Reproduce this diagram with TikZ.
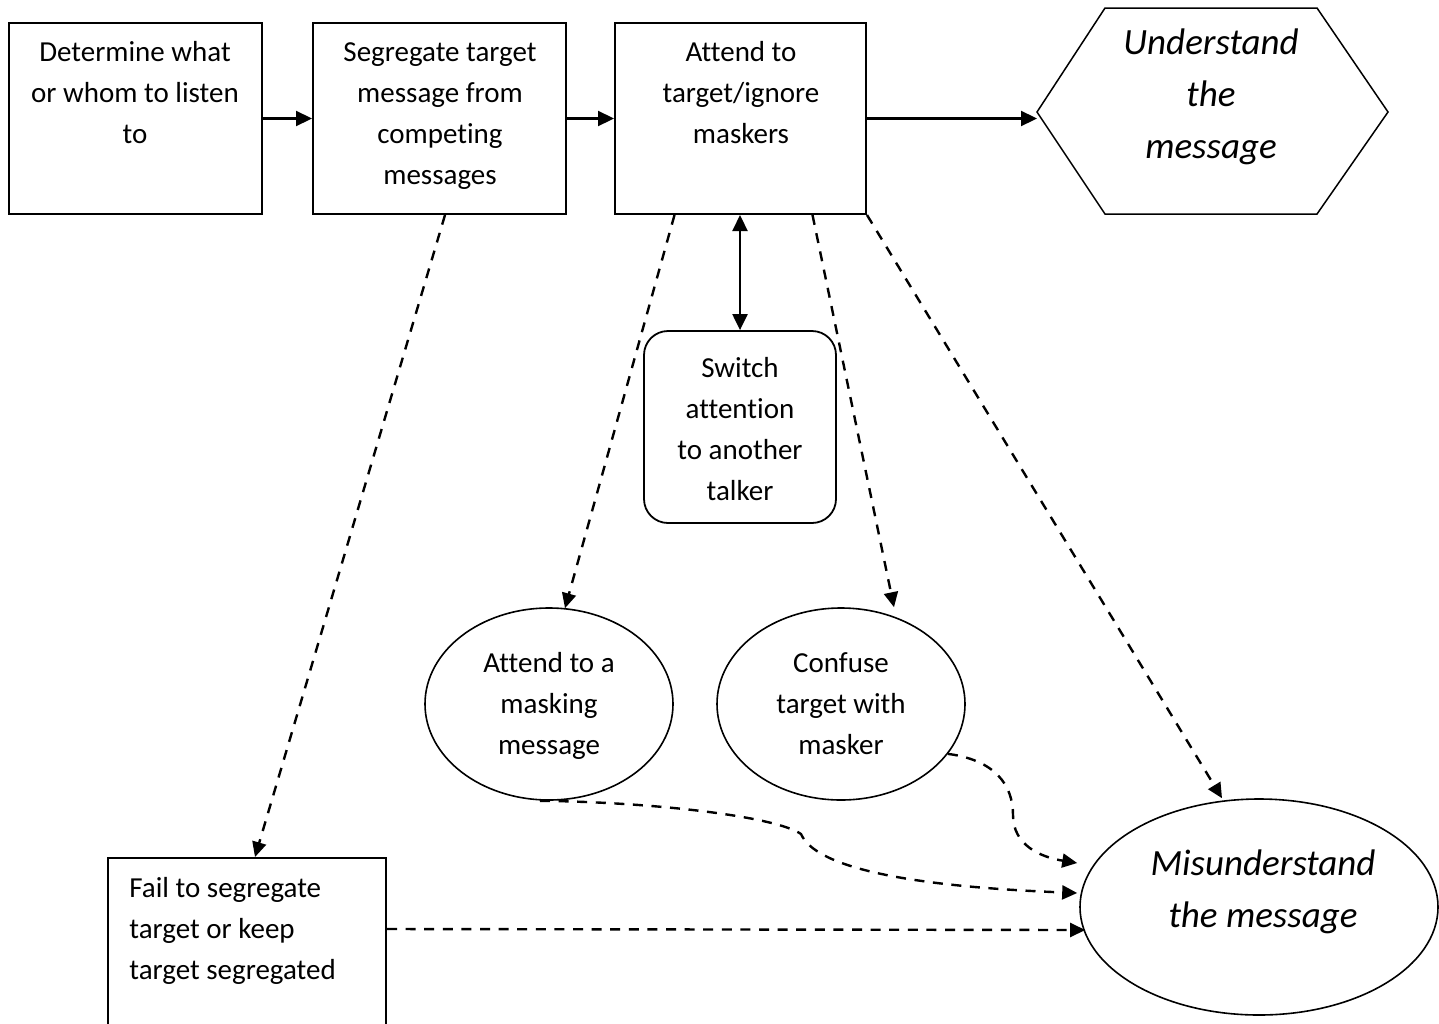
\documentclass[tikz,border=0pt]{standalone}
\usepackage{fontspec}
\setmainfont{Carlito}[Ligatures=NoCommon]
\usetikzlibrary{shapes.geometric,arrows.meta,calc}
\newcommand\firstln{\rule{0pt}{14pt}}
\newcommand\firstit{\rule{0pt}{18pt}}
\begin{document}
\begin{tikzpicture}[x=0.5pt,y=-0.5pt,
  every node/.style={inner sep=0pt},
  box/.style={draw, line width=1pt, rectangle},
  rnd/.style={draw, line width=0.9pt, rounded corners=12pt, rectangle},
  ell/.style={draw, ellipse, line width=0.8pt},
  txt/.style={align=center, anchor=north, font=\fontsize{14.5}{20.5}\selectfont},
  itxt/.style={align=center, anchor=north, font=\fontsize{18.5}{26}\selectfont\itshape},
  tip/.style={Triangle[length=8pt,width=7.5pt]},
  arr/.style={line width=1.1pt, -{Triangle[length=8pt,width=7.5pt]}},
  darr/.style={line width=1.2pt, dash pattern=on 5pt off 4.3pt, -{Triangle[length=7.5pt,width=7pt]}},
]
\clip (0,0) rectangle (1439,1023);
\fill[white] (0,0) rectangle (1439,1023);

% top row boxes
\node[box, minimum width=126.5pt, minimum height=95.5pt] (b1) at (135.5,118.5) {};
\node[box, minimum width=126.5pt, minimum height=95.5pt] (b2) at (439.5,118.5) {};
\node[box, minimum width=125.5pt, minimum height=95.5pt] (b3) at (740.5,118.5) {};
\node[txt] (b1t) at (135,33) {\firstln Determine what\\or whom to listen\\to};
\node[txt] (b2t) at (440,33) {\firstln Segregate target\\message from\\competing\\messages};
\node[txt] (b3t) at (741,33) {\firstln Attend to\\target/ignore\\maskers};

% hexagon
\coordinate (hexL) at (1037,112);
\draw[line width=0.75pt] (hexL) -- (1105,8) -- (1317,8) -- (1388,112) -- (1317,214) -- (1105,214) -- cycle;
\node[itxt] (hext) at (1211,18) {\firstit Understand\\the\\message};

% switch box
\node[rnd, minimum width=96pt, minimum height=96pt] (sw) at (740,427) {};
\node[txt] (swt) at (740,349) {\firstln Switch\\attention\\to another\\talker};

% ellipses
\node[ell, minimum width=124pt, minimum height=96pt] (e1) at (549,704) {};
\node[ell, minimum width=124pt, minimum height=96pt] (e2) at (841,704) {};
\node[txt] (e1t) at (549,644) {\firstln Attend to a\\masking\\message};
\node[txt] (e2t) at (841,644) {\firstln Confuse\\target with\\masker};

\node[ell, minimum width=179pt, minimum height=108pt] (mis) at (1259,907) {};
\node[itxt] (mist) at (1263,839) {\firstit Misunderstand\\the message};

% fail box
\node[box, minimum width=139pt, minimum height=91pt] (fail) at (247,949) {};
\node[txt, anchor=north west, align=left] (failt) at (129,869) {\firstln Fail to segregate\\target or keep\\target segregated};

% solid connectors
\draw[arr] (b1) -- (b2);
\draw[arr] (b2) -- (b3);
\draw[arr] (b3.east) -- (hexL |- b3.east);
\draw[line width=1.1pt, {Triangle[length=8pt,width=7.5pt]}-{Triangle[length=8pt,width=7.5pt]}] (sw.north |- b3.south) -- (sw.north);

% dashed connectors
\draw[darr] ($(b2.south)+(5.5,0)$) -- ($(fail.north)+(8,0)$);
\draw[darr] ($(b3.south)+(-66,0)$) -- ($(e1.north)+(16,1)$);
\draw[darr] ($(b3.south)+(72,0)$) -- ($(e2.north)+(53,0)$);
\draw[darr] (b3.south east) -- ($(mis.north)+(-37,0)$);
\draw[darr] (e2.-25) .. controls (995,760) and (1013,785) .. (1013,815) .. controls (1013,845) and (1040,857) .. ($(mis.west)+(-2,-44)$);
\draw[darr] ($(e1.south)+(-9,0)$) .. controls (650,802) and (775,816) .. (801,834) .. controls (815,866) and (900,886) .. ($(mis.west)+(-2,-14)$);
\draw[darr] ($(fail.north east)+(0,72)$) -- ($(mis.west)+(6,23)$);
\end{tikzpicture}
\end{document}
